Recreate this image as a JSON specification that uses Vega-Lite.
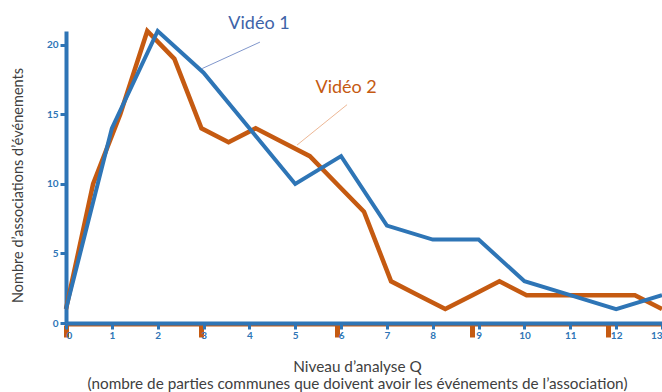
{
  "$schema": "https://vega.github.io/schema/vega-lite/v6.json",
  "width": 596,
  "height": 292,
  "autosize": {"type": "none"},
  "padding": {"left": 66, "top": 31, "right": 0, "bottom": 69},
  "background": "white",
  "config": {"view": {"stroke": null}, "font": "Lato", "axis": {"grid": false}},
  "datasets": {
    "video1": [
      {"q": 0, "n": 1}, {"q": 1, "n": 14}, {"q": 2, "n": 21}, {"q": 3, "n": 18},
      {"q": 4, "n": 14}, {"q": 5, "n": 10}, {"q": 6, "n": 12}, {"q": 7, "n": 7},
      {"q": 8, "n": 6}, {"q": 9, "n": 6}, {"q": 10, "n": 3}, {"q": 11, "n": 2},
      {"q": 12, "n": 1}, {"q": 13, "n": 2}
    ],
    "video2": [
      {"q": 0, "n": 1}, {"q": 1, "n": 10}, {"q": 2, "n": 15}, {"q": 3, "n": 21},
      {"q": 4, "n": 19}, {"q": 5, "n": 14}, {"q": 6, "n": 13}, {"q": 7, "n": 14},
      {"q": 8, "n": 13}, {"q": 9, "n": 12}, {"q": 10, "n": 10}, {"q": 11, "n": 8},
      {"q": 12, "n": 3}, {"q": 13, "n": 2}, {"q": 14, "n": 1}, {"q": 15, "n": 2},
      {"q": 16, "n": 3}, {"q": 17, "n": 2}, {"q": 18, "n": 2}, {"q": 19, "n": 2},
      {"q": 20, "n": 2}, {"q": 21, "n": 2}, {"q": 22, "n": 1}
    ],
    "labels": [
      {"q": 4.21, "n": 21.5, "serie": "Vidéo 1"},
      {"q": 6.11, "n": 16.9, "serie": "Vidéo 2"}
    ],
    "leaders": [
      {"q": 4.23, "n": 20.2, "q2": 2.97, "n2": 18.3, "lead": "Vidéo 1"},
      {"q": 6.13, "n": 15.7, "q2": 5.04, "n2": 12.8, "lead": "Vidéo 2"}
    ]
  },
  "layer": [
    {
      "data": {"name": "video2"},
      "mark": {"type": "line", "color": "#C55A11", "strokeWidth": 4.5},
      "encoding": {
        "x": {
          "field": "q", "type": "quantitative",
          "scale": {"domain": [0, 22], "nice": false},
          "axis": {
            "orient": "bottom", "values": [0, 5, 10, 15, 20], "offset": 2,
            "domainColor": "#C55A11", "domainWidth": 2,
            "tickColor": "#C55A11", "tickWidth": 5, "tickSize": 12,
            "labels": false, "title": null
          }
        },
        "y": {
          "field": "n", "type": "quantitative",
          "scale": {"domain": [0, 21], "nice": false},
          "title": "Nombre d’associations d’événements",
          "axis": {
            "orient": "left", "values": [0, 5, 10, 15, 20],
            "domainColor": "#2E75B6", "domainWidth": 4,
            "tickColor": "#2E75B6", "tickWidth": 3, "tickSize": 6,
            "labelColor": "#2E75B6", "labelFontWeight": "bold", "labelFontSize": 10,
            "labelPadding": 2,
            "titleFont": "Lato", "titleFontSize": 14.5, "titleFontWeight": "normal",
            "titleColor": "#404040", "titleX": -47.5, "titleY": 154,
            "titleAngle": -90, "titleAlign": "center", "titleBaseline": "middle"
          }
        }
      }
    },
    {
      "data": {"name": "video1"},
      "mark": {"type": "line", "color": "#2E75B6", "strokeWidth": 4},
      "encoding": {
        "x": {
          "field": "q", "type": "quantitative",
          "scale": {"domain": [0, 13], "nice": false},
          "axis": {
            "orient": "bottom", "values": [0, 1, 2, 3, 4, 5, 6, 7, 8, 9, 10, 11, 12, 13],
            "domainColor": "#2E75B6", "domainWidth": 4,
            "tickColor": "#2E75B6", "tickWidth": 3, "tickSize": 6,
            "labelColor": "#2E75B6", "labelFontWeight": "bold", "labelFontSize": 10,
            "labelPadding": 1,
            "title": ["Niveau d’analyse Q", "(nombre de parties communes que doivent avoir les événements de l’association)"],
            "titleFont": "Lato", "titleFontSize": 15.3, "titleFontWeight": "normal",
            "titleColor": "#404040", "titleX": 291, "titleY": 48,
            "titleAlign": "center", "titleBaseline": "alphabetic", "titleLineHeight": 17.5
          }
        },
        "y": {"field": "n", "type": "quantitative", "title": "Nombre d’associations d’événements"}
      }
    },
    {
      "data": {"name": "leaders"},
      "mark": {"type": "rule", "strokeWidth": 1},
      "encoding": {
        "x": {"field": "q", "type": "quantitative", "scale": {"domain": [0, 13], "nice": false}, "axis": null},
        "x2": {"field": "q2"},
        "y": {"field": "n", "type": "quantitative", "title": "Nombre d’associations d’événements"},
        "y2": {"field": "n2"},
        "color": {"field": "lead", "type": "nominal", "scale": {"domain": ["Vidéo 1", "Vidéo 2"], "range": ["#8197CC", "#EDB795"]}, "legend": null}
      }
    },
    {
      "data": {"name": "labels"},
      "mark": {"type": "text", "font": "Lato", "fontSize": 18, "align": "center", "baseline": "middle"},
      "encoding": {
        "x": {"field": "q", "type": "quantitative", "scale": {"domain": [0, 13], "nice": false}, "axis": null},
        "y": {"field": "n", "type": "quantitative", "title": "Nombre d’associations d’événements"},
        "text": {"field": "serie"},
        "color": {"field": "serie", "type": "nominal", "scale": {"domain": ["Vidéo 1", "Vidéo 2"], "range": ["#3E63A8", "#C55A11"]}, "legend": null}
      }
    }
  ],
  "resolve": {
    "scale": {"x": "independent", "color": "independent"},
    "axis": {"x": "independent"}
  }
}
